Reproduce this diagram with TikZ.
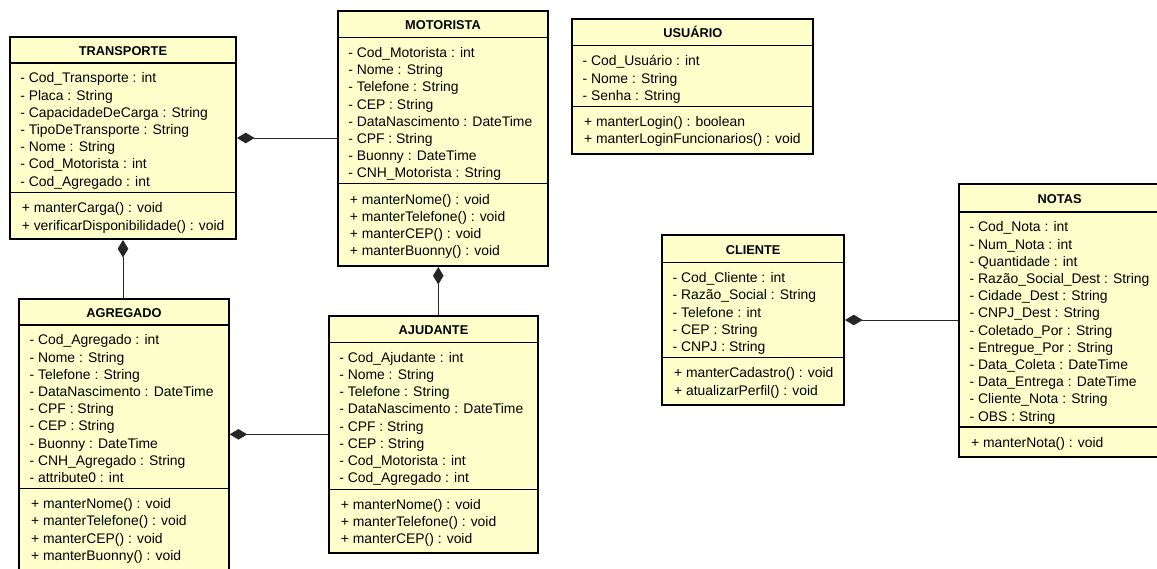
\documentclass[tikz,border=0pt]{standalone}
\usepackage{fontspec}
\setmainfont{Liberation Sans}
\usetikzlibrary{arrows.meta,fit,calc}
\definecolor{classfill}{RGB}{255,255,204}

\begin{document}
\begin{tikzpicture}[x=0.025cm,y=-0.025cm]
	\tikzstyle{every node}+=[inner sep=0pt]
	\tikzstyle{classbox}=[draw=black,line width=1.4pt,fill=classfill,inner sep=0pt]
	\tikzstyle{divider}=[draw=black,line width=0.9pt]
	\tikzstyle{classtitle}=[anchor=base,font=\fontsize{9.1}{11}\selectfont\bfseries]
	\tikzstyle{members}=[anchor=north west,align=left,font=\fontsize{9.89}{12.23}\selectfont]
	\tikzstyle{comp}=[{Diamond[length=12.5pt,width=7.5pt]}-,draw=black!85,line width=0.7pt]
	\useasboundingbox (0,0) rectangle (1157,568);
	% TRANSPORTE
	\node [classbox,fit={(10,37) (236,239)}] (transporte) {};
	\draw [divider] (transporte.west |- 0,63) -- (transporte.east |- 0,63);
	\draw [divider] (transporte.west |- 0,192.7) -- (transporte.east |- 0,192.7);
	\node [classtitle] (transporte-t) at (transporte.north |- 0,55.5) {TRANSPORTE};
	\node [members] (transporte-a) at ($(transporte.west |- 0,72.6)+(11,0)$) {- Cod\_Transporte : int\\- Placa : String\\- CapacidadeDeCarga : String\\- TipoDeTransporte : String\\- Nome : String\\- Cod\_Motorista : int\\- Cod\_Agregado : int};
	\node [members] (transporte-m) at ($(transporte.west |- 0,202.6)+(12.5,0)$) {+ manterCarga() : void\\+ verificarDisponibilidade() : void};
	% MOTORISTA
	\node [classbox,fit={(338,11) (548,266)}] (motorista) {};
	\draw [divider] (motorista.west |- 0,37.5) -- (motorista.east |- 0,37.5);
	\draw [divider] (motorista.west |- 0,183.8) -- (motorista.east |- 0,183.8);
	\node [classtitle] (motorista-t) at (motorista.north |- 0,29.8) {MOTORISTA};
	\node [members] (motorista-a) at ($(motorista.west |- 0,47.1)+(11,0)$) {- Cod\_Motorista : int\\- Nome : String\\- Telefone : String\\- CEP : String\\- DataNascimento : DateTime\\- CPF : String\\- Buonny : DateTime\\- CNH\_Motorista : String};
	\node [members] (motorista-m) at ($(motorista.west |- 0,193.7)+(12.5,0)$) {+ manterNome() : void\\+ manterTelefone() : void\\+ manterCEP() : void\\+ manterBuonny() : void};
	% USUARIO
	\node [classbox,fit={(572.3,19) (813.3,154)}] (usuario) {};
	\draw [divider] (usuario.west |- 0,45.7) -- (usuario.east |- 0,45.7);
	\draw [divider] (usuario.west |- 0,106.3) -- (usuario.east |- 0,106.3);
	\node [classtitle] (usuario-t) at (usuario.north |- 0,37.9) {USUÁRIO};
	\node [members] (usuario-a) at ($(usuario.west |- 0,55.3)+(11,0)$) {- Cod\_Usuário : int\\- Nome : String\\- Senha : String};
	\node [members] (usuario-m) at ($(usuario.west |- 0,116.2)+(12.5,0)$) {+ manterLogin() : boolean\\+ manterLoginFuncionarios() : void};
	% AGREGADO
	\node [classbox,fit={(19.3,299) (228.7,572)}] (agregado) {};
	\draw [divider] (agregado.west |- 0,325) -- (agregado.east |- 0,325);
	\draw [divider] (agregado.west |- 0,488.5) -- (agregado.east |- 0,488.5);
	\node [classtitle] (agregado-t) at (agregado.north |- 0,317.5) {AGREGADO};
	\node [members] (agregado-a) at ($(agregado.west |- 0,334.6)+(11,0)$) {- Cod\_Agregado : int\\- Nome : String\\- Telefone : String\\- DataNascimento : DateTime\\- CPF : String\\- CEP : String\\- Buonny : DateTime\\- CNH\_Agregado : String\\- attribute0 : int};
	\node [members] (agregado-m) at ($(agregado.west |- 0,498.4)+(12.5,0)$) {+ manterNome() : void\\+ manterTelefone() : void\\+ manterCEP() : void\\+ manterBuonny() : void};
	% AJUDANTE
	\node [classbox,fit={(329,315.7) (538,553)}] (ajudante) {};
	\draw [divider] (ajudante.west |- 0,342.3) -- (ajudante.east |- 0,342.3);
	\draw [divider] (ajudante.west |- 0,489.3) -- (ajudante.east |- 0,489.3);
	\node [classtitle] (ajudante-t) at (ajudante.north |- 0,334.5) {AJUDANTE};
	\node [members] (ajudante-a) at ($(ajudante.west |- 0,351.9)+(11,0)$) {- Cod\_Ajudante : int\\- Nome : String\\- Telefone : String\\- DataNascimento : DateTime\\- CPF : String\\- CEP : String\\- Cod\_Motorista : int\\- Cod\_Agregado : int};
	\node [members] (ajudante-m) at ($(ajudante.west |- 0,499.2)+(12.5,0)$) {+ manterNome() : void\\+ manterTelefone() : void\\+ manterCEP() : void};
	% CLIENTE
	\node [classbox,fit={(662.3,235) (844,405)}] (cliente) {};
	\draw [divider] (cliente.west |- 0,262.7) -- (cliente.east |- 0,262.7);
	\draw [divider] (cliente.west |- 0,357.7) -- (cliente.east |- 0,357.7);
	\node [classtitle] (cliente-t) at (cliente.north |- 0,254.4) {CLIENTE};
	\node [members] (cliente-a) at ($(cliente.west |- 0,272.3)+(11,0)$) {- Cod\_Cliente : int\\- Razão\_Social : String\\- Telefone : int\\- CEP : String\\- CNPJ : String};
	\node [members] (cliente-m) at ($(cliente.west |- 0,367.6)+(12.5,0)$) {+ manterCadastro() : void\\+ atualizarPerfil() : void};
	% NOTAS
	\node [classbox,fit={(959.3,184) (1160,457)}] (notas) {};
	\draw [divider] (notas.west |- 0,212) -- (notas.east |- 0,212);
	\draw [divider] (notas.west |- 0,427) -- (notas.east |- 0,427);
	\node [classtitle] (notas-t) at (notas.north |- 0,203.5) {NOTAS};
	\node [members] (notas-a) at ($(notas.west |- 0,221.6)+(11,0)$) {- Cod\_Nota : int\\- Num\_Nota : int\\- Quantidade : int\\- Razão\_Social\_Dest : String\\- Cidade\_Dest : String\\- CNPJ\_Dest : String\\- Coletado\_Por : String\\- Entregue\_Por : String\\- Data\_Coleta : DateTime\\- Data\_Entrega : DateTime\\- Cliente\_Nota : String\\- OBS : String};
	\node [members] (notas-m) at ($(notas.west |- 0,436.9)+(12.5,0)$) {+ manterNota() : void};
	% composicoes
	\draw [comp] (transporte.east) -- (transporte.east -| motorista.west);
	\draw [comp] (transporte.south) -- (transporte.south |- agregado.north);
	\coordinate (mot-aj) at ($(motorista.south)!0.5!(ajudante.north)$);
	\draw [comp] (mot-aj |- motorista.south) -- (mot-aj |- ajudante.north);
	\draw [comp] (agregado.east |- ajudante.west) -- (ajudante.west);
	\draw [comp] (cliente.east) -- (cliente.east -| notas.west);
\end{tikzpicture}
\end{document}
